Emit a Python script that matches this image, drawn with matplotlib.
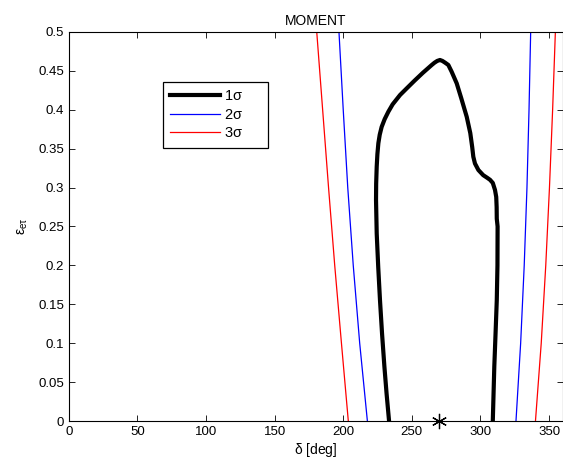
import matplotlib
matplotlib.use("Agg")
import matplotlib.pyplot as plt

plt.rcParams['font.family'] = ['Liberation Sans', 'DejaVu Sans']
plt.rcParams['font.size'] = 9
plt.rcParams['mathtext.fontset'] = 'custom'
plt.rcParams['mathtext.rm'] = 'Liberation Sans'
plt.rcParams['mathtext.it'] = 'Liberation Sans'

# 1 sigma contour (delta in deg, epsilon)
d1 = [233.4, 231.6, 230.0, 228.3, 226.8, 225.5, 224.4, 223.9, 224.0, 224.4,
      224.9, 225.6, 226.6, 228.0, 230.2, 232.9, 236.0, 241.4, 246.3, 252.0,
      258.0, 264.5, 266.5, 268.5, 270.5, 272.3, 274.3, 276.6, 279.0, 282.7,
      286.0, 290.0, 292.6, 294.0, 294.8, 296.0, 298.5, 302.0, 305.0, 307.0,
      309.0, 310.6, 311.5, 311.8, 311.9, 312.5, 312.4, 311.9, 311.0, 310.1,
      309.0]
e1 = [0.0, 0.035, 0.07, 0.112, 0.155, 0.198, 0.241, 0.284, 0.305, 0.327,
      0.343, 0.357, 0.368, 0.378, 0.388, 0.3976, 0.407, 0.419, 0.4276, 0.4375,
      0.4475, 0.4576, 0.4605, 0.4628, 0.464, 0.4628, 0.4605, 0.4576, 0.449, 0.434,
      0.415, 0.391, 0.37, 0.352, 0.3397, 0.331, 0.3226, 0.316, 0.3125, 0.31,
      0.306, 0.297, 0.288, 0.275, 0.26, 0.25, 0.2, 0.155, 0.112, 0.07,
      0.0]

# 2 sigma boundaries
d2_left = [196.9, 200.0, 203.3, 207.3, 212.0, 217.6]
e2_left = [0.5, 0.4, 0.3, 0.2, 0.1, 0.0]
d2_right = [325.9, 329.3, 331.9, 333.9, 335.4, 336.6]
e2_right = [0.0, 0.1, 0.2, 0.3, 0.4, 0.5]

# 3 sigma boundaries
d3_left = [180.7, 185.0, 189.3, 193.8, 198.7, 203.7]
e3_left = [0.5, 0.4, 0.3, 0.2, 0.1, 0.0]
d3_right = [340.1, 344.3, 347.6, 350.3, 352.6, 354.6]
e3_right = [0.0, 0.1, 0.2, 0.3, 0.4, 0.5]

# best fit point
best_d = [270]
best_e = [0]

fig = plt.figure(figsize=(5.63, 4.63), dpi=100)
ax = fig.add_axes([0.1222, 0.0907, 0.8774, 0.8402])

ax.plot(d1, e1, color='black', lw=3.0, label=r'1$\sigma$',
        solid_joinstyle='round')
ax.plot(d2_left, e2_left, color='blue', lw=0.9, label=r'2$\sigma$')
ax.plot(d2_right, e2_right, color='blue', lw=0.9)
ax.plot(d3_left, e3_left, color='red', lw=0.9, label=r'3$\sigma$')
ax.plot(d3_right, e3_right, color='red', lw=0.9)
ax.plot(best_d, best_e, marker=(6, 2, 0), color='black', ms=11, mew=0.9,
        ls='none', clip_on=False, zorder=5)

ax.set_xlim(0, 360)
ax.set_ylim(0, 0.5)
ax.set_xticks(range(0, 360, 50))
ax.set_yticks([0, 0.05, 0.1, 0.15, 0.2, 0.25, 0.3, 0.35, 0.4, 0.45, 0.5])
ax.set_yticklabels(['0', '0.05', '0.1', '0.15', '0.2', '0.25', '0.3', '0.35',
                    '0.4', '0.45', '0.5'])
ax.tick_params(direction='in', top=True, right=True, length=4, width=0.6,
               labelsize=9.5)
for s in ax.spines.values():
    s.set_linewidth(0.8)

ax.set_title('MOMENT', fontsize=10, pad=5)
ax.set_xlabel(r'$\delta$ [deg]', fontsize=10, labelpad=2)
ax.set_ylabel(r'$\varepsilon_{e\tau}$', fontsize=10, labelpad=6)

leg = ax.legend(loc='upper left', bbox_to_anchor=(0.19, 0.679, 0.2126, 0.192),
                mode='expand', fontsize=10.5, fancybox=False, framealpha=1,
                edgecolor='black', handlelength=3.4, handletextpad=0.3,
                borderpad=0.5, labelspacing=0.3, borderaxespad=0)
leg.get_frame().set_linewidth(0.9)

fig.savefig('out.png', dpi=100)
